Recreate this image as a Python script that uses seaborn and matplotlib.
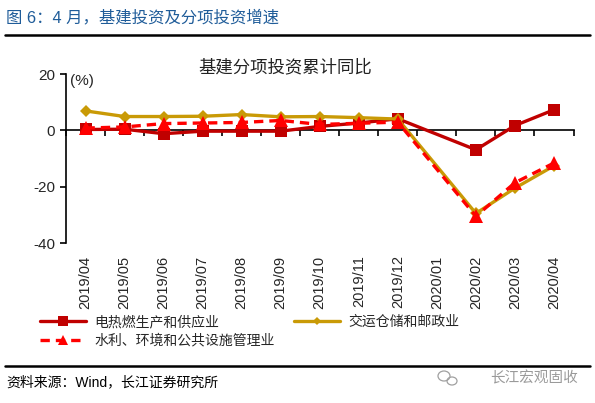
import numpy as np
import pandas as pd
import matplotlib
matplotlib.use("Agg")
import matplotlib.pyplot as plt
import seaborn as sns
from matplotlib.lines import Line2D
from matplotlib.patches import Ellipse

# ---- data ----
months = ["2019/04", "2019/05", "2019/06", "2019/07", "2019/08", "2019/09", "2019/10",
          "2019/11", "2019/12", "2020/01", "2020/02", "2020/03", "2020/04"]
electric = [0.3, 0.4, -1.2, -0.3, -0.3, -0.3, 1.4, 2.6, 4.1, np.nan, -6.9, 1.7, 7.3]
transport = [6.9, 4.9, 4.9, 5.0, 5.6, 4.8, 4.9, 4.5, 4.0, np.nan, -29.5, -20.5, -12.6]
water = [0.8, 1.2, 2.4, 2.6, 2.8, 3.5, 2.1, 2.5, 2.9, np.nan, -30.5, -18.6, -11.6]
series_names = ["电热燃生产和供应业", "交运仓储和邮政业", "水利、环境和公共设施管理业"]
yticks = [20, 0, -20, -40]

sns.set_style("white")
plt.rcParams["font.family"] = ["Liberation Sans", "Noto Sans CJK SC", "DejaVu Sans"]
plt.rcParams["axes.unicode_minus"] = False

df = pd.DataFrame({"x": np.arange(len(months)), "electric": electric,
                   "transport": transport, "water": water})

fig = plt.figure(figsize=(5.95, 4.03), dpi=100)
ax = fig.add_axes([66 / 595, 1 - 243 / 403, (573.5 - 66) / 595, (243 - 74) / 403])

c_el, c_tr, c_wa = "#C00000", "#C99A06", "#FF0000"

sns.lineplot(data=df.dropna(subset=["electric"]), x="x", y="electric", ax=ax, color=c_el,
             lw=2.4, marker="s", markersize=9, markeredgewidth=0, sort=False, zorder=3)
sns.lineplot(data=df.dropna(subset=["transport"]), x="x", y="transport", ax=ax, color=c_tr,
             lw=2.4, marker="D", markersize=6, markeredgewidth=0, sort=False, zorder=4)
sns.lineplot(data=df.dropna(subset=["water"]), x="x", y="water", ax=ax, color=c_wa,
             lw=2.4, linestyle=(0, (2.8, 1.8)), marker="^", markersize=10,
             markeredgewidth=0, sort=False, zorder=5)

ax.set_xlim(-0.5, len(months) - 0.5)
ax.set_ylim(-40, 20)
ax.set_xlabel("")
ax.set_ylabel("")

for s in ["top", "right", "bottom"]:
    ax.spines[s].set_visible(False)
ax.spines["left"].set_color("black")
ax.spines["left"].set_linewidth(1.2)

ax.set_yticks(yticks)
ax.set_yticklabels([str(v) for v in yticks])
ax.tick_params(axis="y", direction="out", length=4, width=1.2, color="black",
               labelsize=11, pad=4, left=True)
ax.set_xticks(np.arange(len(months)))
ax.set_xticklabels(months, rotation=90, fontsize=10.5)
ax.tick_params(axis="x", length=0, pad=9, bottom=True)
for lbl in ax.get_xticklabels():
    lbl.set_va("top")

# zero axis line with tick marks between categories
sec = ax.secondary_xaxis(2 / 3)
sec.set_xticks(np.arange(-0.5, len(months), 1.0))
sec.set_xticklabels([])
sec.tick_params(axis="x", direction="in", length=4, width=1.2, color="black")
for s in sec.spines.values():
    s.set_linewidth(1.2)
    s.set_color("black")

ax.text(0.008, 1.0, "(%)", transform=ax.transAxes, fontsize=11, va="top", ha="left")
fig.text(285 / 595, 1 - 67 / 403, "基建分项投资累计同比", fontsize=12.5, ha="center",
         va="center", color="#222222")

# legend
handles = [Line2D([], [], color=c_el, lw=2.4, marker="s", markersize=7, markeredgewidth=0),
           Line2D([], [], color=c_wa, lw=2.4, linestyle=(0, (2.8, 1.8)), marker="^",
                  markersize=7, markeredgewidth=0),
           Line2D([], [], color=c_tr, lw=2.4, marker="D", markersize=4, markeredgewidth=0)]
labels = [series_names[0], series_names[2], series_names[1]]
fig.legend(handles, labels, ncol=2, loc="upper left", bbox_to_anchor=(40 / 595, 1 - 315 / 403),
           frameon=False, fontsize=10, handlelength=3.3, handletextpad=0.6,
           columnspacing=1.4, labelspacing=0.35, borderaxespad=0, borderpad=0)

# header / footer
fig.text(6 / 595, 1 - 17 / 403, "图 6：4 月，基建投资及分项投资增速", fontsize=11.8,
         color="#1F5C99", ha="left", va="center")
fig.add_artist(Line2D([5 / 595, 590 / 595], [1 - 35 / 403] * 2, color="black", lw=1.8))
fig.add_artist(Line2D([5 / 595, 590 / 595], [1 - 366 / 403] * 2, color="black", lw=1.8))
fig.text(6 / 595, 1 - 382 / 403, "资料来源：Wind，长江证券研究所", fontsize=10,
         color="black", ha="left", va="center")
fig.text(578 / 595, 1 - 378 / 403, "长江宏观固收", fontsize=10.5, color="#9a9a9a",
         ha="right", va="center")
fig.add_artist(Ellipse((444 / 595, 1 - 376 / 403), 12 / 595, 10 / 403, fill=False,
                       ec="#a0a0a0", lw=0.9))
fig.add_artist(Ellipse((452 / 595, 1 - 381 / 403), 10 / 595, 8 / 403, fill=False,
                       ec="#a0a0a0", lw=0.9))

fig.savefig("out.png", dpi=100)
